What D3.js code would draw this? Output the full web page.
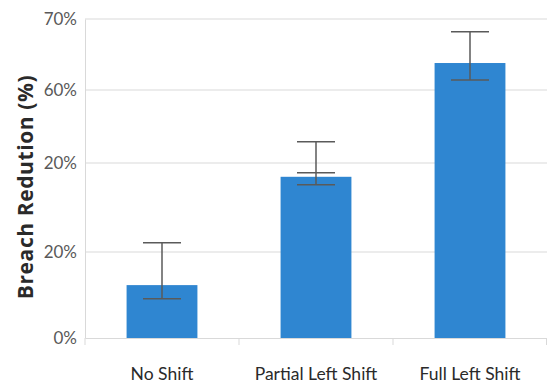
<!DOCTYPE html>
<html>
<head>
<meta charset="utf-8">
<script src="https://cdn.jsdelivr.net/npm/d3@7"></script>
<style>
  html, body { margin: 0; padding: 0; background: #fff; }
  svg { display: block; }
</style>
</head>
<body>
<svg id="chart" width="547" height="386"></svg>
<script>
// ---- data ----
const categories = ["No Shift", "Partial Left Shift", "Full Left Shift"];
const values     = [0.123, 0.369, 0.638];
const errHigh    = [0.221, 0.458, 0.682];
const errLow     = [0.091, 0.351, 0.614];
const errMid     = [null, 0.378, null];
// axis as printed in the source (non-uniform spacing, duplicate label)
const tickValues = [0, 0.2, 0.4, 0.6, 0.7];
const tickLabels = ["0%", "20%", "20%", "60%", "70%"];
const yTitle = "Breach Redution (%)";

(function () {
// ---- layout ----
const plotLeft = 85, plotRight = 547, plotTop = 19, plotBottom = 338;
const svg = d3.select("#chart");

const x = d3.scaleBand().domain(categories).range([plotLeft, plotRight]).paddingInner(0.54).paddingOuter(0.27);
// piecewise scale reproducing the printed gridline spacing
const y = d3.scaleLinear().domain(tickValues).range([plotBottom, 252, 163, 90, plotTop]);

// gridlines
svg.append("g").selectAll("line").data(tickValues.slice(1)).join("line")
  .attr("x1", plotLeft).attr("x2", plotRight)
  .attr("y1", d => y(d)).attr("y2", d => y(d))
  .attr("stroke", "#d9d9d9").attr("stroke-width", 1);

// y axis
const yAxis = d3.axisLeft(y).tickValues(tickValues).tickFormat((d, i) => tickLabels[i]).tickSize(0).tickPadding(8);
const gy = svg.append("g").attr("transform", `translate(${plotLeft},0)`).call(yAxis);
gy.select(".domain").attr("stroke", "#d9d9d9");
gy.selectAll("text").attr("font-family", "Lato, 'Open Sans', sans-serif").attr("font-size", 17).attr("fill", "#595959");

// bars
svg.append("g").selectAll("rect").data(categories).join("rect")
  .attr("x", d => x(d)).attr("width", x.bandwidth())
  .attr("y", (d, i) => y(values[i])).attr("height", (d, i) => y(0) - y(values[i]))
  .attr("fill", "#2f86d1");

// x axis
const xAxis = d3.axisBottom(x).tickSize(0).tickPadding(30);
const gx = svg.append("g").attr("transform", `translate(0,${plotBottom})`).call(xAxis);
gx.select(".domain").attr("stroke", "#d9d9d9");
gx.selectAll("text").attr("font-family", "Lato, 'Open Sans', sans-serif").attr("font-size", 17.5).attr("fill", "#2a2a2a");
// category separator ticks
const step = x.step();
const sepX = d3.range(categories.length + 1).map(i => plotLeft + x.paddingOuter() * step - x.paddingInner() * step / 2 + i * step);
svg.append("g").selectAll("line").data(sepX).join("line")
  .attr("x1", d => Math.min(d, plotRight - 0.5)).attr("x2", d => Math.min(d, plotRight - 0.5))
  .attr("y1", plotBottom).attr("y2", plotBottom + 7)
  .attr("stroke", "#d9d9d9");

// error bars
const eb = svg.append("g").attr("stroke", "#5a5a5a").attr("stroke-width", 1.5);
const cx = d => x(d) + x.bandwidth() / 2;
const capW = 19;
categories.forEach((c, i) => {
  eb.append("line").attr("x1", cx(c)).attr("x2", cx(c)).attr("y1", y(errHigh[i])).attr("y2", y(errLow[i]));
  eb.append("line").attr("x1", cx(c) - capW).attr("x2", cx(c) + capW).attr("y1", y(errHigh[i])).attr("y2", y(errHigh[i]));
  eb.append("line").attr("x1", cx(c) - capW).attr("x2", cx(c) + capW).attr("y1", y(errLow[i])).attr("y2", y(errLow[i]));
  if (errMid[i] != null) {
    eb.append("line").attr("x1", cx(c) - capW).attr("x2", cx(c) + capW).attr("y1", y(errMid[i])).attr("y2", y(errMid[i]));
  }
});

// y title
svg.append("text")
  .attr("transform", `translate(33,187) rotate(-90)`)
  .attr("text-anchor", "middle")
  .attr("font-family", "'Open Sans', Lato, sans-serif").attr("font-weight", "bold").attr("font-size", 21)
  .attr("letter-spacing", 0.6)
  .attr("fill", "#2a2a2a")
  .text(yTitle);
})();
</script>
</body>
</html>
